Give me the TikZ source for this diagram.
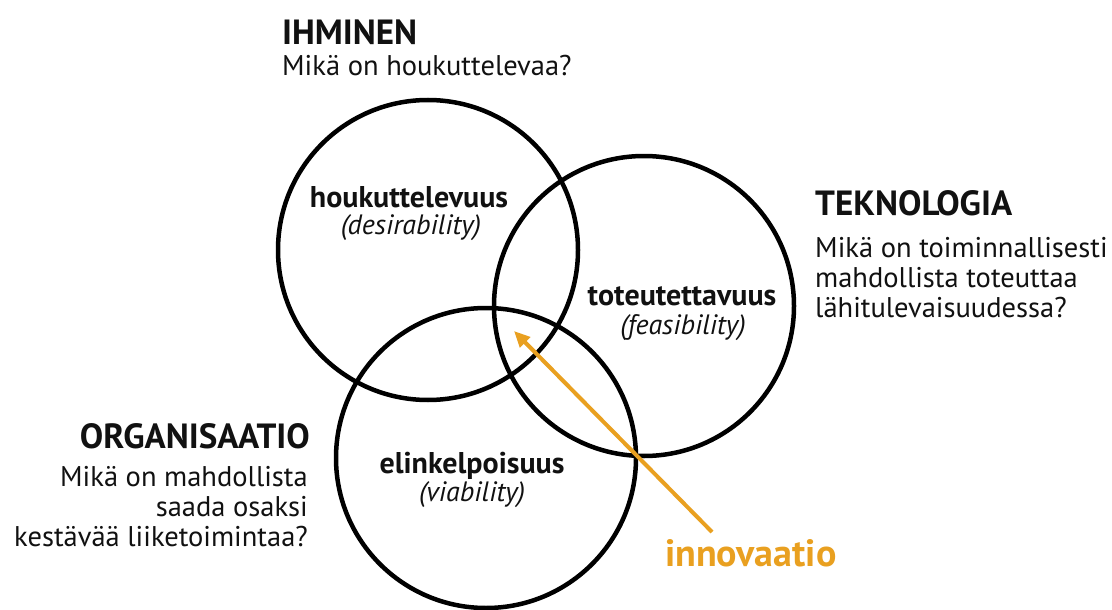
\documentclass[tikz,border=0pt]{standalone}
\usepackage{fontspec}
\setmainfont{PT Sans}
\usetikzlibrary{arrows.meta}
\definecolor{innov}{RGB}{233,160,32}
\definecolor{ink}{RGB}{17,17,17}
\begin{document}
\begin{tikzpicture}[x=1pt,y=-1pt,
  ring/.style={circle, draw=black, line width=4.5pt, minimum size=300pt, inner sep=0pt},
  title/.style={font=\fontsize{35}{40}\selectfont\bfseries, text=ink, inner sep=0pt},
  body/.style={font=\fontsize{28.5}{30}\selectfont, text=ink, inner sep=0pt},
  lab/.style={font=\fontsize{30}{30}\selectfont\bfseries, text=ink, inner sep=0pt, anchor=base},
  sub/.style={font=\fontsize{28}{30}\selectfont\itshape, text=ink, inner sep=0pt, anchor=base},
  innovarrow/.style={draw=innov, line width=4pt, -{Triangle[length=16pt,width=14pt]}}
]
\useasboundingbox (0,0) rectangle (1112,610);
\fill[white] (0,0) rectangle (1112,610);

% circles
\node[ring] (A) at (428,250) {};
\node[ring] (B) at (644,306) {};
\node[ring] (C) at (486,458) {};

% circle labels
\node[lab] (Alab) at (409,207) {houkuttelevuus};
\node[sub] (Asub) at (411,234) {(desirability)};
\node[lab] (Blab) at (682,305) {toteutettavuus};
\node[sub] (Bsub) at (683,334) {(feasibility)};
\node[lab] (Clab) at (472,473) {elinkelpoisuus};
\node[sub] (Csub) at (472,501) {(viability)};

% IHMINEN
\node[title, anchor=base west] (ihm) at (282,45) {IHMINEN};
\node[body, anchor=base west] (ihmq) at (282,76) {Mikä on houkuttelevaa?};

% TEKNOLOGIA (base anchor = last line's baseline)
\node[title, anchor=base west] (tek) at (815,215) {TEKNOLOGIA};
\node[body, anchor=base west, align=left] (tekq) at (815,317)
  {Mikä on toiminnallisesti\\mahdollista toteuttaa\\lähitulevaisuudessa?};

% ORGANISAATIO
\node[title, anchor=base east] (org) at (310,448) {ORGANISAATIO};
\node[body, anchor=base east, align=right] (orgq) at (308,546)
  {Mikä on mahdollista\\saada osaksi\\kestävää liiketoimintaa?};

% innovaatio
\node[font=\fontsize{38}{40}\selectfont\bfseries, text=innov, inner sep=0pt, anchor=base west] (inn) at (665,566) {innovaatio};
\coordinate (tail) at (712,532);
\coordinate (tip) at (514,331);
\draw[innovarrow] (tail) -- (tip);
\end{tikzpicture}
\end{document}
